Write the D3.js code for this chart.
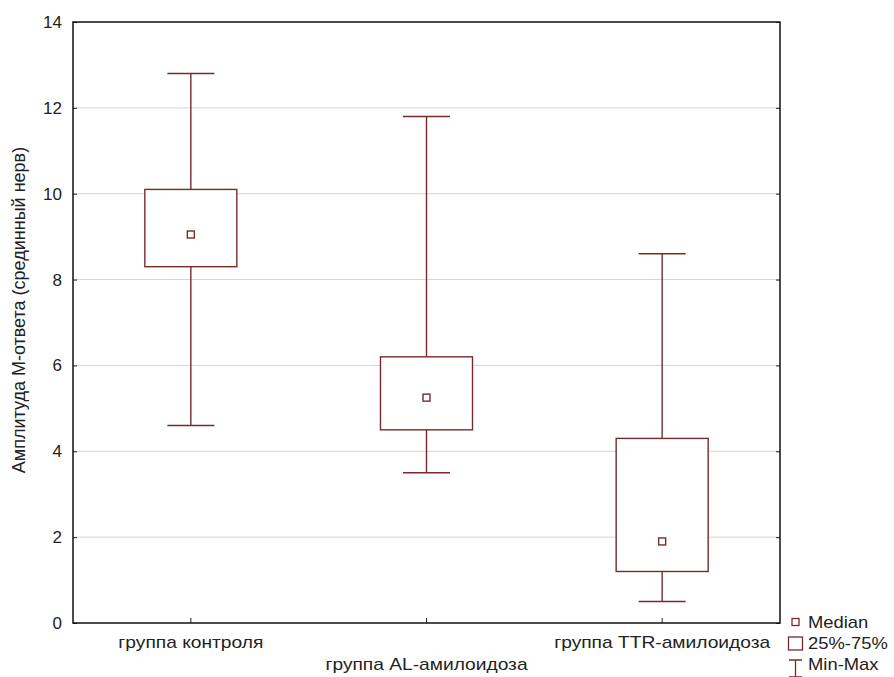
<!DOCTYPE html>
<html>
<head>
<meta charset="utf-8">
<script src="https://cdn.jsdelivr.net/npm/d3@7"></script>
<style>
  body { margin: 0; background: #fff; }
  svg text { font-family: "Liberation Sans", Arial, sans-serif; fill: #222; }
</style>
</head>
<body>
<div id="chart"></div>
<script>
// groups and box stats
const groups = ["группа контроля", "группа AL-амилоидоза", "группа TTR-амилоидоза"];
const medians = [9.05, 5.25, 1.9];
const q1 = [8.3, 4.5, 1.2];
const q3 = [10.1, 6.2, 4.3];
const mins = [4.6, 3.5, 0.5];
const maxs = [12.8, 11.8, 8.6];
const yTicks = [0, 2, 4, 6, 8, 10, 12, 14];
const legendLabels = ["Median", "25%-75%", "Min-Max"];

const width = 894, height = 677;
const margin = {top: 22, right: 114, bottom: 54, left: 73};
const w = width - margin.left - margin.right;
const h = height - margin.top - margin.bottom;
const col = "#742d2d";

const x = d3.scaleBand().domain(groups).range([0, w]);
const y = d3.scaleLinear().domain([0, 14]).range([h, 0]);

const svg = d3.select("#chart").append("svg")
  .attr("width", width)
  .attr("height", height);

const g = svg.append("g")
  .attr("transform", `translate(${margin.left},${margin.top})`);

// grid
g.append("g")
  .selectAll("line")
  .data(yTicks.filter(d => d > 0 && d < 14))
  .join("line")
  .attr("x1", 0).attr("x2", w)
  .attr("y1", d => y(d)).attr("y2", d => y(d))
  .attr("stroke", "#d4d4d4");

// left axis, ticks pointing inward
g.append("g")
  .call(d3.axisLeft(y).tickValues(yTicks).tickSize(-4).tickPadding(11))
  .call(a => a.select(".domain").remove())
  .call(a => a.selectAll("line").attr("stroke", "#222"))
  .call(a => a.selectAll("text").attr("font-size", 17).attr("fill", "#222"));

// right side ticks
g.append("g")
  .attr("transform", `translate(${w},0)`)
  .call(d3.axisRight(y).tickValues(yTicks).tickSize(-4).tickFormat(""))
  .call(a => a.select(".domain").remove())
  .call(a => a.selectAll("line").attr("stroke", "#222"));

// bottom axis, middle label staggered down
const xa = g.append("g")
  .attr("transform", `translate(0,${h})`)
  .call(d3.axisBottom(x).tickSize(-5).tickPadding(0))
  .call(a => a.select(".domain").remove())
  .call(a => a.selectAll("line").attr("stroke", "#222"));
xa.selectAll("text")
  .attr("font-size", 16)
  .attr("fill", "#222")
  .attr("dy", (d, i) => i === 1 ? 47 : 25)
  .attr("transform", "scale(1.2,1)");

// frame
g.append("rect")
  .attr("width", w).attr("height", h)
  .attr("fill", "none")
  .attr("stroke", "#111")
  .attr("stroke-width", 1.5);

// y title
svg.append("text")
  .attr("transform", `translate(25,310) rotate(-90)`)
  .attr("text-anchor", "middle")
  .attr("font-size", 18)
  .text("Амплитуда М-ответа (срединный нерв)");

// boxes
const boxW = 92, capW = 47, medS = 7;
const boxes = g.append("g")
  .selectAll("g")
  .data(groups)
  .join("g")
  .attr("transform", d => `translate(${x(d) + x.bandwidth() / 2},0)`);

boxes.append("line")
  .attr("y1", (d, i) => y(maxs[i])).attr("y2", (d, i) => y(q3[i]))
  .attr("stroke", col).attr("stroke-width", 1.4);
boxes.append("line")
  .attr("y1", (d, i) => y(q1[i])).attr("y2", (d, i) => y(mins[i]))
  .attr("stroke", col).attr("stroke-width", 1.4);
boxes.append("line")
  .attr("x1", -capW / 2).attr("x2", capW / 2)
  .attr("y1", (d, i) => y(maxs[i])).attr("y2", (d, i) => y(maxs[i]))
  .attr("stroke", col).attr("stroke-width", 1.4);
boxes.append("line")
  .attr("x1", -capW / 2).attr("x2", capW / 2)
  .attr("y1", (d, i) => y(mins[i])).attr("y2", (d, i) => y(mins[i]))
  .attr("stroke", col).attr("stroke-width", 1.4);
boxes.append("rect")
  .attr("x", -boxW / 2).attr("width", boxW)
  .attr("y", (d, i) => y(q3[i]))
  .attr("height", (d, i) => y(q1[i]) - y(q3[i]))
  .attr("fill", "#fff")
  .attr("stroke", col).attr("stroke-width", 1.4);
boxes.append("rect")
  .attr("x", -medS / 2).attr("width", medS)
  .attr("y", (d, i) => y(medians[i]) - medS / 2)
  .attr("height", medS)
  .attr("fill", "none")
  .attr("stroke", col).attr("stroke-width", 1.4);

// legend
const lg = svg.append("g").attr("transform", `translate(788,622)`);
lg.append("rect").attr("x", 4).attr("y", -3.5).attr("width", 7).attr("height", 7)
  .attr("fill", "none").attr("stroke", col).attr("stroke-width", 1.3);
lg.append("rect").attr("x", 0.5).attr("y", 15).attr("width", 14).attr("height", 13)
  .attr("fill", "none").attr("stroke", col).attr("stroke-width", 1.3);
lg.append("path")
  .attr("d", "M1,38H14M7.5,38V55M1,55H14")
  .attr("fill", "none").attr("stroke", col).attr("stroke-width", 1.3);
lg.selectAll("text.lab")
  .data(legendLabels)
  .join("text")
  .attr("class", "lab")
  .attr("transform", (d, i) => `translate(20,${i * 21}) scale(1.15,1)`)
  .attr("dy", "0.35em")
  .attr("font-size", 16)
  .text(d => d);
</script>
</body>
</html>
